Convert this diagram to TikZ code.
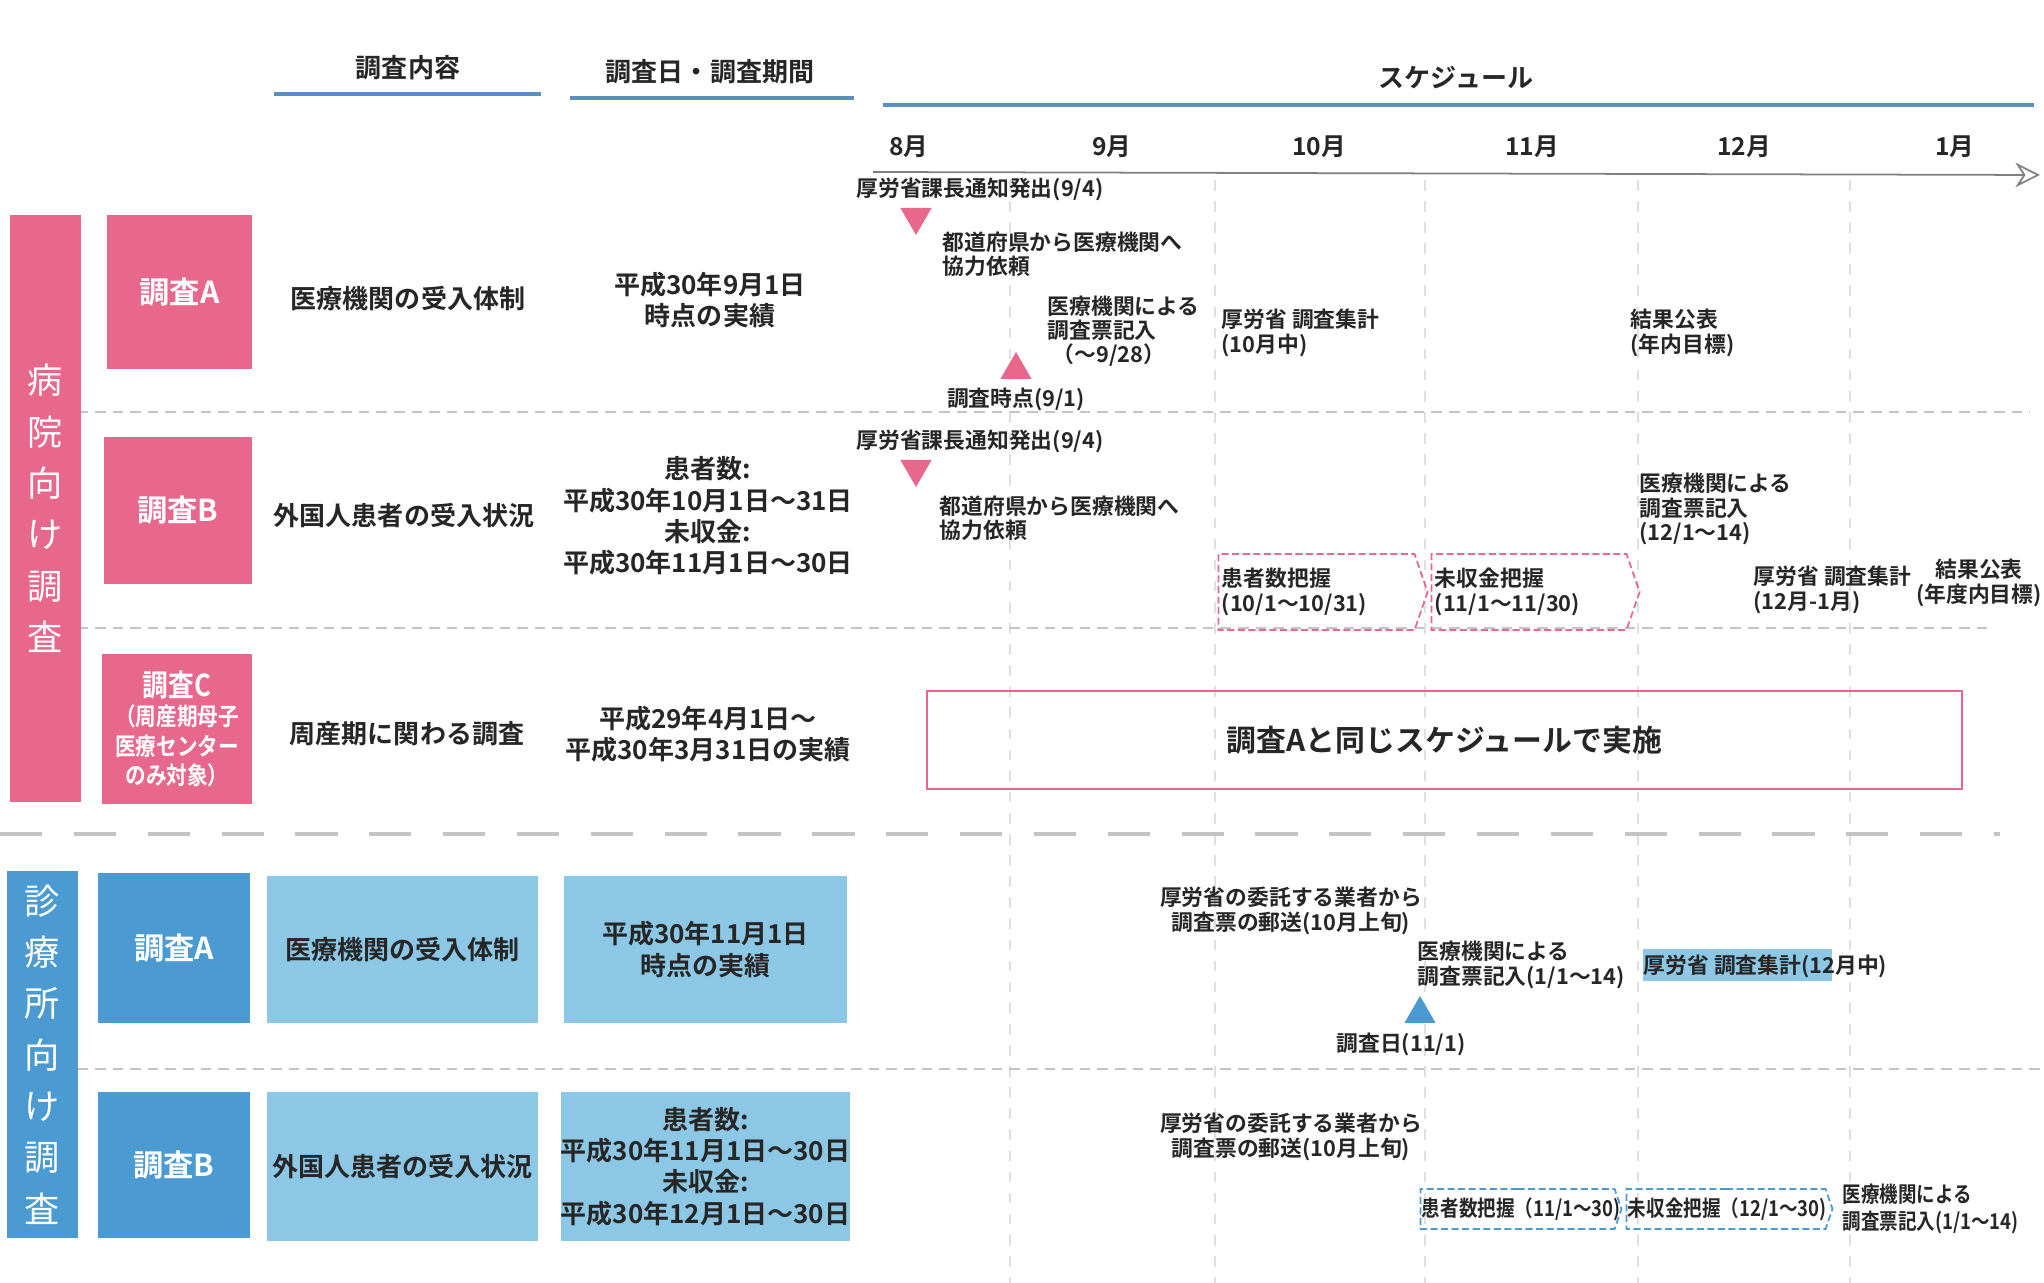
\documentclass[tikz,border=0pt]{standalone}
\usepackage{fontspec}
\setmainfont{Noto Sans CJK JP}[BoldFont={* Bold}]
\newfontfamily\narrowjp{Noto Sans CJK JP}[FakeStretch=0.85, BoldFont={* Bold}]
\usetikzlibrary{shapes.geometric,shapes.symbols,arrows.meta}

\definecolor{hospink}{HTML}{E8678C}
\definecolor{clinblue}{HTML}{4B9AD1}
\definecolor{lightblue}{HTML}{8CC8E5}
\definecolor{hdrblue}{HTML}{5B8FBF}
\definecolor{inkgray}{HTML}{262626}
\definecolor{sepgray}{HTML}{C4C4C4}

\tikzset{
  sidebar/.style={text=white, align=center, inner sep=0pt, font=\fontsize{10}{14.6}\selectfont},
  kindbox/.style={text=white, align=center, inner sep=0pt, font=\bfseries\fontsize{8.6}{10}\selectfont},
  body/.style={text=inkgray, align=center, inner sep=0pt, font=\bfseries\fontsize{7.4}{8.9}\selectfont},
  hdr/.style={text=inkgray, inner sep=0pt, font=\bfseries\fontsize{7.4}{8}\selectfont},
  hdrline/.style={hdrblue, line width=1.2pt},
  month/.style={text=inkgray, inner sep=0pt, font=\bfseries\fontsize{7}{8}\selectfont},
  sched/.style={text=inkgray, align=left, inner sep=0pt, font=\bfseries\fontsize{6.2}{6.9}\selectfont},
  schedc/.style={sched, align=center},
  narrow/.style={sched, font=\narrowjp\bfseries\fontsize{6.2}{7.6}\selectfont},
  mark down/.style={regular polygon, regular polygon sides=3, shape border rotate=180,
    fill=hospink, minimum size=0.36cm, inner sep=0pt},
  mark up/.style={regular polygon, regular polygon sides=3,
    fill=#1, minimum size=0.36cm, inner sep=0pt},
  phase/.style={signal, signal to=east, signal pointer angle=142, draw=#1,
    dash pattern=on 2pt off 1pt, line width=0.5pt, inner sep=0pt, text=inkgray},
  rowsep/.style={sepgray, densely dashed, line width=0.4pt},
  colsep/.style={sepgray!55, dashed, line width=0.4pt}
}

\begin{document}
\begin{tikzpicture}[x=0.01cm, y=-0.01cm]

    \useasboundingbox (0,0) rectangle (2044,1283);

    % Month columns
    \foreach \x in {1010,1215,1425,1638,1850}{
        \draw[colsep] (\x,180) -- (\x,1283);
    }

    % Row separators
    \draw[rowsep] (60,412) -- (2030,412);
    \draw[rowsep] (60,628) -- (1990,628);
    \draw[rowsep] (60,1069) -- (2040,1069);
    \draw[sepgray, line width=1.2pt, dash pattern=on 12pt off 9pt] (0,834) -- (2000,834);

    % Headers
    \node[hdr] (hdrContent) at (408,68) {調査内容};
    \node[hdr] (hdrPeriod) at (710,72) {調査日・調査期間};
    \node[hdr] (hdrSched) at (1456,78) {スケジュール};
    \draw[hdrline] (274,94) -- (541,94);
    \draw[hdrline] (570,98) -- (854,98);
    \draw[hdrline] (883,105) -- (2034,105);

    % Make the month labels
    \foreach \m/\x in {8/909,9/1112,10/1319,11/1532,12/1744,1/1955}{
        \node[month] (m\m) at (\x,147) {\m 月};
    }
    \coordinate (tlS) at (873,172);
    \coordinate (tlE) at (2040,175);
    \draw[gray, line width=0.5pt, -{Stealth[open, length=7pt, width=7pt]}] (tlS) -- (tlE);

    % Hospital survey
    \node[sidebar, fill=hospink, minimum width=0.71cm, minimum height=5.87cm] (hosp) at (45.5,508.5)
        {病\\院\\向\\け\\調\\査};
    \node[kindbox, fill=hospink, minimum width=1.45cm, minimum height=1.54cm] (hA) at (179.5,292) {調査A};
    \node[kindbox, fill=hospink, minimum width=1.48cm, minimum height=1.47cm] (hB) at (178,510.5) {調査B};
    \node[kindbox, fill=hospink, minimum width=1.50cm, minimum height=1.50cm,
        font=\narrowjp\bfseries\fontsize{6.9}{8.4}\selectfont] (hC) at (177,729)
        {{\fontsize{8.6}{10}\selectfont 調査C}\\（周産期母子\\医療センター\\のみ対象）};

    \node[body] (hAc) at (408,299) {医療機関の受入体制};
    \node[body] (hBc) at (404,516) {外国人患者の受入状況};
    \node[body] (hCc) at (407,734) {周産期に関わる調査};
    \node[body] (hAd) at (710,300) {平成30年9月1日\\時点の実績};
    \node[body] (hBd) at (708,516) {患者数:\\平成30年10月1日～31日\\未収金:\\平成30年11月1日～30日};
    \node[body] (hCd) at (708,734) {平成29年4月1日～\\平成30年3月31日の実績};

    % Hospital schedule, survey A
    \node[schedc] (sA1) at (980,189) {厚労省課長通知発出(9/4)};
    \node[mark down] (tA1) at (916,217) {};
    \node[sched, anchor=west] (sA2) at (942,254) {都道府県から医療機関へ\\協力依頼};
    \node[sched, anchor=west] (sA3) at (1047,331) {医療機関による\\調査票記入\\\ （～9/28）};
    \node[mark up=hospink] (tA2) at (1016,370) {};
    \node[schedc] (sA4) at (1016,399) {調査時点(9/1)};
    \node[sched, anchor=west] (sA5) at (1221,333) {厚労省 調査集計\\(10月中)};
    \node[sched, anchor=west] (sA6) at (1630,333) {結果公表\\(年内目標)};

    % Hospital schedule, survey B
    \node[schedc] (sB1) at (980,441) {厚労省課長通知発出(9/4)};
    \node[mark down] (tB1) at (916,469) {};
    \node[sched, anchor=west] (sB2) at (939,518) {都道府県から医療機関へ\\協力依頼};
    \node[phase=hospink, minimum width=2.09cm, minimum height=0.76cm] (pB1) at (1316.5,592) {};
    \node[sched, anchor=west] (pB1t) at ([xshift=1pt]pB1.west) {患者数把握\\(10/1～10/31)};
    \node[phase=hospink, minimum width=2.08cm, minimum height=0.76cm] (pB2) at (1529,592) {};
    \node[sched, anchor=west] (pB2t) at ([xshift=1pt]pB2.west) {未収金把握\\(11/1～11/30)};
    \node[sched, anchor=west] (sB3) at (1639,509) {医療機関による\\調査票記入\\(12/1～14)};
    \node[sched, anchor=west] (sB4) at (1753,590) {厚労省 調査集計\\(12月-1月)};
    \node[schedc] (sB5) at (1979,583) {結果公表\\(年度内目標)};

    % Hospital schedule, survey C
    \node[draw=hospink, line width=0.6pt, minimum width=10.35cm, minimum height=0.98cm, inner sep=0pt,
        text=inkgray, font=\bfseries\fontsize{8.5}{10}\selectfont] (sC) at (1444.5,740)
        {調査Aと同じスケジュールで実施};

    % Clinic survey
    \node[sidebar, fill=clinblue, minimum width=0.71cm, minimum height=3.67cm] (clin) at (42.5,1054.5)
        {診\\療\\所\\向\\け\\調\\査};
    \node[kindbox, fill=clinblue, minimum width=1.52cm, minimum height=1.50cm] (cA) at (174,948) {調査A};
    \node[kindbox, fill=clinblue, minimum width=1.52cm, minimum height=1.46cm] (cB) at (174,1165) {調査B};

    \node[body, fill=lightblue, minimum width=2.71cm, minimum height=1.47cm] (cAc) at (402.5,949.5) {医療機関の受入体制};
    \node[body, fill=lightblue, minimum width=2.83cm, minimum height=1.47cm] (cAd) at (705.5,949.5) {平成30年11月1日\\時点の実績};
    \node[body, fill=lightblue, minimum width=2.71cm, minimum height=1.49cm] (cBc) at (402.5,1166.5) {外国人患者の受入状況};
    \node[body, fill=lightblue, minimum width=2.83cm, minimum height=1.49cm] (cBd) at (705.5,1166.5)
        {患者数:\\平成30年11月1日～30日\\未収金:\\平成30年12月1日～30日};

    % Clinic schedule, survey A
    \node[schedc] (kA1) at (1291,911) {厚労省の委託する業者から\\調査票の郵送(10月上旬)};
    \node[sched, anchor=west] (kA2) at (1417,965) {医療機関による\\調査票記入(1/1～14)};
    \node[mark up=clinblue] (tK) at (1420,1014) {};
    \node[schedc] (kA3) at (1401,1044) {調査日(11/1)};
    \fill[lightblue] (1643,949) rectangle (1832,981);
    \node[sched, anchor=west] (kA4) at (1643,966) {厚労省 調査集計(12月中)};

    % Clinic schedule, survey B
    \node[schedc] (kB1) at (1291,1137) {厚労省の委託する業者から\\調査票の郵送(10月上旬)};
    \node[phase=clinblue, minimum width=2.01cm, minimum height=0.40cm] (qB1) at (1517.5,1209) {};
    \node[narrow, anchor=west] (qB1t) at ([xshift=0.5pt]qB1.west) {患者数把握（11/1～30)};
    \node[phase=clinblue, minimum width=2.06cm, minimum height=0.40cm] (qB2) at (1726,1209) {};
    \node[narrow, anchor=west] (qB2t) at ([xshift=0.5pt]qB2.west) {未収金把握（12/1～30)};
    \node[narrow, anchor=west] (kB2) at (1842,1209) {医療機関による\\調査票記入(1/1～14)};

\end{tikzpicture}
\end{document}
